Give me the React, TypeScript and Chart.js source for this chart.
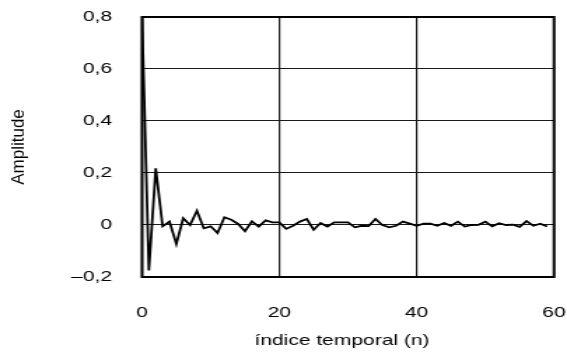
import React, { useEffect, useRef } from "react";
import { Chart, registerables } from "chart.js";

Chart.register(...registerables);

const indices: number[] = Array.from({ length: 60 }, (_, i) => i);
const amplitude: number[] = [
  0.8, -0.175, 0.218, -0.005, 0.013, -0.073, 0.026, 0.0, 0.055, -0.013,
  -0.005, -0.031, 0.03, 0.02, 0.004, -0.024, 0.014, -0.006, 0.018, 0.01,
  0.01, -0.015, -0.003, 0.013, 0.023, -0.018, 0.008, -0.006, 0.01, 0.01,
  0.01, -0.009, -0.003, -0.004, 0.023, 0.0, -0.009, -0.003, 0.013, 0.005,
  -0.003, 0.005, 0.005, -0.003, 0.008, -0.003, 0.013, -0.006, 0.0, 0.001,
  0.013, -0.005, 0.007, 0.0, 0.001, -0.007, 0.015, -0.003, 0.005, -0.006,
];
const yTicks: number[] = [-0.2, 0, 0.2, 0.4, 0.6, 0.8];
const xTicks: number[] = [0, 20, 40, 60];
const xTitle = "índice temporal (n)";
const yTitle = "Amplitude";

// The picture is stretched horizontally: draw into a narrower canvas and widen it with CSS.
const STRETCH = 1.4;
const OUT_W = 567;
const OUT_H = 355;
const IN_W = Math.round(OUT_W / STRETCH);
const FONT = "'Liberation Sans', Arial, sans-serif";

const fmt = (v: number) => {
  if (Math.abs(v) < 1e-9) return "0";
  return v.toFixed(1).replace(".", ",").replace("-", "\u2013");
};

const decorations = {
  id: "decorations",
  afterDatasetsDraw(chart: any) {
    const { ctx, chartArea } = chart;
    ctx.save();
    ctx.strokeStyle = "#000";
    ctx.lineWidth = 2;
    ctx.strokeRect(chartArea.left, chartArea.top, chartArea.right - chartArea.left, chartArea.bottom - chartArea.top);
    ctx.restore();
  },
  afterDraw(chart: any) {
    const { ctx, chartArea } = chart;
    // x title (stretched with the rest)
    ctx.save();
    ctx.fillStyle = "#000";
    ctx.font = `15px ${FONT}`;
    ctx.textAlign = "center";
    ctx.textBaseline = "middle";
    ctx.fillText(xTitle, 342 / STRETCH, 341);
    ctx.restore();
    // y title, drawn without the horizontal stretch
    ctx.save();
    ctx.scale(1 / STRETCH, 1);
    ctx.translate(18.5, (chartArea.top + chartArea.bottom) / 2);
    ctx.rotate(-Math.PI / 2);
    ctx.fillStyle = "#000";
    ctx.font = `17px ${FONT}`;
    ctx.textAlign = "center";
    ctx.textBaseline = "middle";
    ctx.fillText(yTitle, 0, 0);
    ctx.restore();
  },
};

export default function App() {
  const ref = useRef<HTMLCanvasElement | null>(null);
  useEffect(() => {
    if (!ref.current) return;
    const chart = new Chart(ref.current, {
      type: "line",
      data: {
        datasets: [
          {
            data: indices.map((n, i) => ({ x: n, y: amplitude[i] })),
            borderColor: "#000",
            borderWidth: 1.8,
            pointRadius: 0,
            tension: 0,
            fill: false,
          },
        ],
      },
      plugins: [decorations],
      options: {
        animation: false,
        responsive: false,
        maintainAspectRatio: false,
        devicePixelRatio: 1,
        layout: { padding: { top: 17, right: IN_W - 554 / STRETCH, bottom: 0, left: 0 } },
        plugins: { legend: { display: false }, tooltip: { enabled: false } },
        scales: {
          x: {
            type: "linear",
            min: 0,
            max: 60,
            afterBuildTicks: (s: any) => {
              s.ticks = xTicks.map((v) => ({ value: v }));
            },
            afterFit: (s: any) => {
              s.height = OUT_H - 277;
              s.paddingLeft = 0;
              s.paddingRight = 0;
            },
            grid: { color: "#1a1a1a", lineWidth: 1.2, drawTicks: false },
            border: { display: false },
            ticks: {
              padding: 27,
              color: "#000",
              font: { family: FONT, size: 15 },
              maxRotation: 0,
              callback: (v: any) => String(v),
            },
          },
          y: {
            type: "linear",
            min: -0.2,
            max: 0.8,
            afterBuildTicks: (s: any) => {
              s.ticks = yTicks.map((v) => ({ value: v }));
            },
            afterFit: (s: any) => {
              s.width = 142 / STRETCH;
              s.paddingTop = 0;
              s.paddingBottom = 0;
            },
            grid: { color: "#1a1a1a", lineWidth: 1.1, drawTicks: false },
            border: { display: false },
            ticks: {
              padding: (142 - 112) / STRETCH,
              color: "#000",
              font: { family: FONT, size: 15 },
              callback: (v: any) => fmt(Number(v)),
            },
          },
        },
      },
    } as any);
    return () => chart.destroy();
  }, []);
  return (
    <div style={{ position: "fixed", left: 0, top: 0, width: OUT_W, height: OUT_H, background: "#fff" }}>
      <canvas
        ref={ref}
        width={IN_W}
        height={OUT_H}
        style={{ width: `${OUT_W}px`, height: `${OUT_H}px`, display: "block" }}
      />
    </div>
  );
}
